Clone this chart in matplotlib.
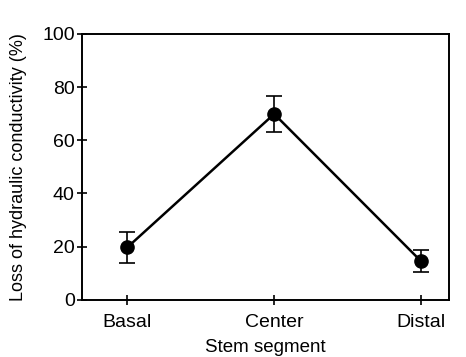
import matplotlib
matplotlib.use("Agg")
import matplotlib.pyplot as plt

segments = ["Basal", "Center", "Distal"]
plc_mean = [19.8, 69.9, 14.6]
plc_err = [5.8, 6.9, 4.2]
y_ticks = [0, 20, 40, 60, 80, 100]

plt.rcParams["font.family"] = ["Liberation Sans", "DejaVu Sans"]

fig = plt.figure(figsize=(4.66, 3.57), dpi=100)
ax = fig.add_axes([0.176, 0.160, 0.787, 0.745])

x = list(range(len(segments)))
ax.errorbar(x, plc_mean, yerr=plc_err, color="black", lw=1.8,
            marker="o", markersize=9.5, capsize=5.5, capthick=1.2,
            elinewidth=1.2, zorder=3)

ax.set_xlim(-0.31, 2.19)
ax.set_ylim(0, 100)
ax.set_yticks(y_ticks)
ax.set_xticks(x)
ax.set_xticklabels(segments)

for s in ax.spines.values():
    s.set_linewidth(1.4)
ax.tick_params(axis="both", direction="inout", length=6.5, width=1.2,
               labelsize=14, pad=2)
ax.tick_params(axis="x", pad=7)

ax.set_xlabel("Stem segment", fontsize=13.5, labelpad=6)
ax.set_ylabel("Loss of hydraulic conductivity (%)", fontsize=13, labelpad=11)

fig.savefig("out.png", dpi=100)
